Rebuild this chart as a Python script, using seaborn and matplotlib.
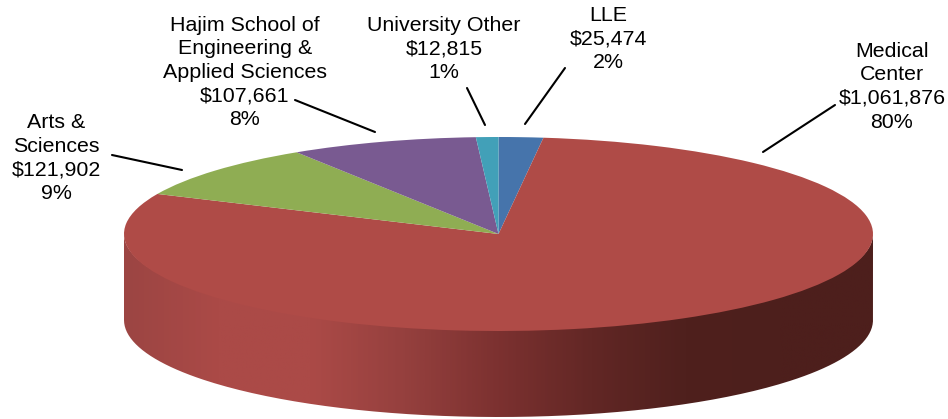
import numpy as np
import seaborn as sns
import matplotlib.pyplot as plt
from matplotlib.patches import PathPatch
from matplotlib.path import Path

# chart data, clockwise from 12 o'clock
names = ['LLE', 'Medical\nCenter', 'Arts &\nSciences',
         'Hajim School of\nEngineering &\nApplied Sciences', 'University Other']
amounts = [25474, 1061876, 121902, 107661, 12815]
amount_labels = ['$25,474', '$1,061,876', '$121,902', '$107,661', '$12,815']
percent_labels = ['2%', '80%', '9%', '8%', '1%']
colors = ['#4674AB', '#AF4B47', '#8FAD53', '#795A91', '#42A0B8']

# label placement in image pixels
label_x = [608, 892, 56.5, 245, 444]
label_top = [6, 42, 113, 16, 16]
leader_start = [(565, 68), (835, 105), (112, 155), (295, 100), (467, 88)]
leader_end = [(525, 124), (763, 152), (182, 170), (375, 132), (485, 125)]

# pie outline in image pixels
width, height = 948, 419
left, right, top, front, bottom = 124, 873, 137, 331, 417

sns.set_theme(style='white')
plt.rcParams['font.family'] = ['Liberation Sans', 'DejaVu Sans']

fig = plt.figure(figsize=(width / 100, height / 100), dpi=100)
depth = (bottom - front) / ((front - top) / 2)

ax = fig.add_axes([left / width, 1 - bottom / height,
                   (right - left) / width, (bottom - top) / height])
wedges, _ = ax.pie(amounts, colors=colors, startangle=90, counterclock=False,
                   radius=1, wedgeprops={'linewidth': 0, 'zorder': 3})

# side wall of the disc, shaded left to right
wall_cmap = sns.blend_palette(['#9C4543', '#AB4A47', '#AB4A47', '#95403E', '#7C3130',
                               '#622725', '#4F201D', '#4D1F1C', '#4D1F1C'], as_cmap=True)
shade = ax.imshow(np.linspace(0, 1, 400)[None, :], cmap=wall_cmap, aspect='auto',
                  extent=(-1, 1, -1 - depth, 0), zorder=1)
t = np.linspace(np.pi, 2 * np.pi, 200)
rim_x = np.cos(t)
rim_y = np.sin(t)
# upper edge stays just under the top face so no light seam shows
outline = np.vstack([np.column_stack([rim_x, rim_y * 0.97]),
                     np.column_stack([rim_x[::-1], rim_y[::-1] - depth])])
wall_clip = PathPatch(Path(np.vstack([outline, outline[:1]])), transform=ax.transData,
                      facecolor='none', edgecolor='none')
ax.add_patch(wall_clip)
shade.set_clip_path(wall_clip)

ax.set_aspect('auto')
ax.set_xlim(-1, 1)
ax.set_ylim(-1 - depth, 1)
ax.axis('off')

# labels and leader lines sit on an overlay in pixel coordinates
overlay = fig.add_axes([0, 0, 1, 1])
overlay.set_xlim(0, width)
overlay.set_ylim(height, 0)
overlay.axis('off')

for i in range(len(names)):
    overlay.text(label_x[i], label_top[i],
                 names[i] + '\n' + amount_labels[i] + '\n' + percent_labels[i],
                 ha='center', va='top', fontsize=15.4, color='black', linespacing=1.3)
    overlay.plot([leader_start[i][0], leader_end[i][0]],
                 [leader_start[i][1], leader_end[i][1]], color='black', linewidth=1.5)

fig.savefig('out.png', dpi=100)
